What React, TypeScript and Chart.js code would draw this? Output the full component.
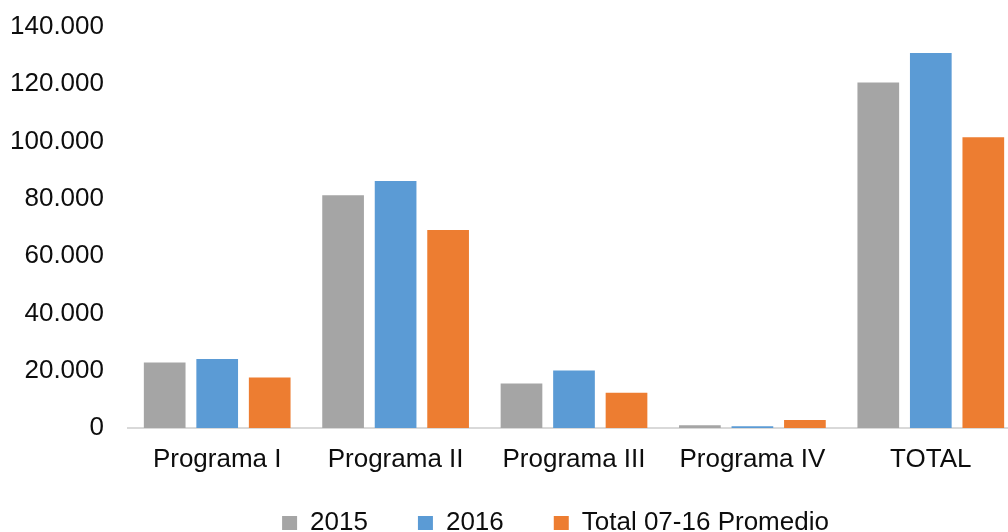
import React, { useEffect, useRef } from "react";
import { Chart, registerables } from "chart.js";

Chart.register(...registerables);

const categories = ["Programa I", "Programa II", "Programa III", "Programa IV", "TOTAL"];
const series2015 = [22900, 81300, 15500, 1000, 120600];
const series2016 = [24100, 86200, 20100, 600, 130900];
const seriesPromedio = [17600, 69100, 12300, 2800, 101500];
const seriesNames = ["2015", "2016", "Total 07-16 Promedio"];
const seriesColors = ["#A5A5A5", "#5B9BD5", "#ED7D31"];
const yMin = 0;
const yMax = 140000;
const yStep = 20000;

const FONT = "'Liberation Sans', Arial, sans-serif";

function fmt(v: number): string {
  return String(v).replace(/\B(?=(\d{3})+(?!\d))/g, ".");
}

const unclipLabels = {
  id: "unclipLabels",
  afterLayout(chart: any) {
    const y = chart.scales.y;
    const x = chart.scales.x;
    if (y) y.left = 0;
    if (x) x.bottom = chart.height;
  },
};

export default function App() {
  const ref = useRef<HTMLCanvasElement | null>(null);

  useEffect(() => {
    if (!ref.current) return;
    const values = [series2015, series2016, seriesPromedio];
    const chart = new Chart(ref.current, {
      type: "bar",
      data: {
        labels: categories,
        datasets: values.map((d, i) => ({
          label: seriesNames[i],
          data: d,
          backgroundColor: seriesColors[i],
          borderWidth: 0,
          categoryPercentage: 0.883,
          barPercentage: 0.794,
        })),
      },
      plugins: [unclipLabels],
      options: {
        responsive: false,
        animation: false,
        events: [],
        layout: { padding: { left: 91, right: 0, top: 27, bottom: 0 } },
        plugins: {
          tooltip: { enabled: false },
          legend: {
            position: "bottom",
            labels: {
              boxWidth: 15,
              boxHeight: 14,
              padding: 50,
              color: "#0d0d0d",
              font: { family: FONT, size: 26 },
            },
          },
        },
        scales: {
          x: {
            grid: { display: false, drawTicks: false },
            border: { display: true, color: "#D9D9D9", width: 2 },
            ticks: {
              color: "#0d0d0d",
              padding: 16,
              font: { family: FONT, size: 26 },
              maxRotation: 0,
              autoSkip: false,
            },
            afterFit: (scale: any) => {
              scale.height = 32;
              scale.paddingLeft = 0;
              scale.paddingRight = 0;
            },
          },
          y: {
            min: yMin,
            max: yMax,
            grid: { display: false, drawTicks: false },
            border: { display: false },
            ticks: {
              stepSize: yStep,
              color: "#0d0d0d",
              padding: 24,
              font: { family: FONT, size: 26 },
              callback: (v: any) => fmt(Number(v)),
            },
            afterFit: (scale: any) => {
              scale.width = 37;
              scale.paddingTop = 0;
              scale.paddingBottom = 0;
            },
          },
        },
      },
    });
    return () => chart.destroy();
  }, []);

  return (
    <div
      style={{
        position: "fixed",
        left: 0,
        top: 0,
        width: 1008,
        height: 532,
        overflow: "hidden",
        background: "#fff",
      }}
    >
      <canvas ref={ref} width={1020} height={546} style={{ display: "block" }} />
    </div>
  );
}
